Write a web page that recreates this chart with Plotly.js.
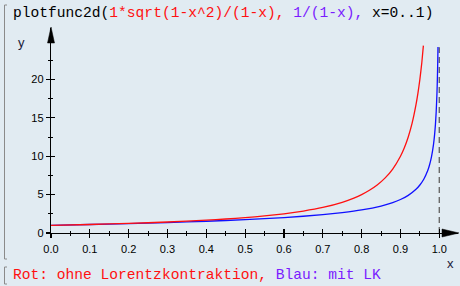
<!DOCTYPE html>
<html>
<head>
<meta charset="utf-8">
<script src="https://cdn.plot.ly/plotly-3.0.1.min.js"></script>
<style>
html,body{margin:0;padding:0;background:#e1ebf2;}
#plot{width:460px;height:286px;}
</style>
</head>
<body>
<div id="plot"></div>
<script>
// Red curve
const xRed = [0,0.1,0.2,0.3,0.4,0.45,0.5,0.55,0.6,0.65,0.7,0.75,0.78,0.8,0.82,0.84,0.86,0.88,0.9,0.91,0.92,0.93,0.94,0.945,0.95,0.955,0.959];
const yRed = [1,1.11,1.25,1.43,1.67,1.82,2.0,2.22,2.5,2.86,3.33,4.0,4.55,5.0,5.56,6.25,7.14,8.33,10.0,11.1,12.5,14.3,16.7,18.2,20.0,22.2,24.4];
// Blue curve
const xBlue = [0,0.1,0.2,0.3,0.4,0.5,0.6,0.7,0.75,0.8,0.85,0.88,0.9,0.92,0.94,0.95,0.96,0.97,0.975,0.98,0.985,0.988,0.99,0.992,0.994,0.995,0.996,0.9966];
const yBlue = [1,1.11,1.22,1.36,1.53,1.73,2.0,2.38,2.65,3.0,3.51,3.96,4.36,4.9,5.69,6.25,7.0,8.1,8.89,9.95,11.5,12.87,14.11,15.78,18.23,19.97,22.34,24.23];
const asymptoteX = [1,1];
const asymptoteY = [0,24.2];

const xTickVals = [0,0.1,0.2,0.3,0.4,0.5,0.6,0.7,0.8,0.9,1.0];
const xTickText = ["0.0","0.1","0.2","0.3","0.4","0.5","0.6","0.7","0.8","0.9","1.0"];
const xMinorVals = [0.05,0.15,0.25,0.35,0.45,0.55,0.65,0.75,0.85,0.95];
const yTickVals = [0,5,10,15,20];
const yTickText = ["0","5","10","15","20"];
const yMinorVals = [2.5,7.5,12.5,17.5,22.5];

const titleText = 'plotfunc2d(<span style="color:#ff1010">1*sqrt(1-x^2)/(1-x),</span> <span style="color:#7a1cff">1/(1-x),</span> x=0..1)';
const noteText = '<span style="color:#ff1010">Rot: ohne Lorentzkontraktion,</span> <span style="color:#7a1cff">Blau: mit LK</span>';

// layout geometry (pixels)
const L = 51, R = 458, T = 28, B = 233, W = 460, H = 286;
const pxX = p => (p - L) / (R - L);
const pxY = p => (B - p) / (B - T);
const xUnit = 388.3, yUnit = 7.68;

const traces = [
  {x: asymptoteX, y: asymptoteY, mode: 'lines', line: {color: '#6a6a6a', width: 1.4, dash: '6px,4px'}, hoverinfo: 'skip'},
  {x: xBlue, y: yBlue, mode: 'lines', line: {color: '#1010ff', width: 1.3, shape: 'spline', smoothing: 0.5}},
  {x: xRed, y: yRed, mode: 'lines', line: {color: '#ff1010', width: 1.3, shape: 'spline', smoothing: 0.5}}
];

const axCommon = {showgrid: false, zeroline: false, showline: true, linecolor: '#000', linewidth: 1.2,
  tickcolor: '#000', tickwidth: 1.2, ticklen: 4};

const layout = {
  width: W, height: H,
  margin: {l: L, r: W - R, t: T, b: H - B, pad: 0},
  paper_bgcolor: '#e1ebf2', plot_bgcolor: '#e1ebf2',
  showlegend: false,
  font: {family: 'Liberation Sans, Arial, sans-serif', size: 11, color: '#000'},
  xaxis: Object.assign({}, axCommon, {range: [0, (R - L) / xUnit], ticks: 'outside', ticklabelstandoff: 2,
    tickmode: 'array', tickvals: xTickVals, ticktext: xTickText,
    minor: {tickmode: 'array', tickvals: xMinorVals, ticks: 'outside', ticklen: 2, tickcolor: '#000', tickwidth: 1}}),
  xaxis2: {overlaying: 'x', anchor: 'y', side: 'bottom', matches: 'x', range: [0, (R - L) / xUnit],
    showgrid: false, zeroline: false, showline: false, showticklabels: false,
    ticks: 'inside', ticklen: 4, tickcolor: '#000', tickwidth: 1.2, tickmode: 'array', tickvals: xTickVals,
    minor: {tickmode: 'array', tickvals: xMinorVals, ticks: 'inside', ticklen: 2, tickcolor: '#000', tickwidth: 1}},
  yaxis: Object.assign({}, axCommon, {range: [0, (B - T) / yUnit], ticks: 'outside',
    tickmode: 'array', tickvals: yTickVals, ticktext: yTickText,
    minor: {tickmode: 'array', tickvals: yMinorVals, ticks: 'outside', ticklen: 2, tickcolor: '#000', tickwidth: 1}}),
  yaxis2: {overlaying: 'y', anchor: 'x', side: 'left', range: [0, (B - T) / yUnit],
    showgrid: false, zeroline: false, showline: false, showticklabels: false,
    ticks: 'inside', ticklen: 4, tickcolor: '#000', tickwidth: 1.2, tickmode: 'array', tickvals: yTickVals,
    minor: {tickmode: 'array', tickvals: yMinorVals, ticks: 'inside', ticklen: 2, tickcolor: '#000', tickwidth: 1}},
  shapes: [
    // y-axis arrow head
    {type: 'path', xref: 'paper', yref: 'paper', xsizemode: 'pixel', ysizemode: 'pixel', xanchor: 0, yanchor: 1,
     path: 'M -3.5,-15 L 0,1 L 3.5,-15 Z', fillcolor: '#000', line: {color: '#000', width: 0.5}},
    // x-axis arrow head
    {type: 'path', xref: 'paper', yref: 'paper', xsizemode: 'pixel', ysizemode: 'pixel', xanchor: 1, yanchor: 0,
     path: 'M -16,-4 L 1,0 L -16,4 Z', fillcolor: '#000', line: {color: '#000', width: 0.5}},
    // cell brackets
    {type: 'path', xref: 'paper', yref: 'paper', path: `M ${pxX(7)},${pxY(5)} L ${pxX(4.5)},${pxY(5)} L ${pxX(4.5)},${pxY(259)} L ${pxX(7)},${pxY(259)}`,
     line: {color: '#8a8a8a', width: 1}},
    {type: 'path', xref: 'paper', yref: 'paper', path: `M ${pxX(7)},${pxY(267)} L ${pxX(4.5)},${pxY(267)} L ${pxX(4.5)},${pxY(284)} L ${pxX(7)},${pxY(284)}`,
     line: {color: '#8a8a8a', width: 1}}
  ],
  annotations: [
    {text: titleText, xref: 'paper', yref: 'paper', x: pxX(11), y: pxY(13), xanchor: 'left', yanchor: 'middle',
     showarrow: false, font: {family: 'Liberation Mono, Courier New, monospace', size: 14.6, color: '#000'}},
    {text: noteText, xref: 'paper', yref: 'paper', x: pxX(11), y: pxY(275), xanchor: 'left', yanchor: 'middle',
     showarrow: false, font: {family: 'Liberation Mono, Courier New, monospace', size: 14.6, color: '#000'}},
    {text: 'y', xref: 'paper', yref: 'paper', x: pxX(22), y: pxY(43), xanchor: 'center', yanchor: 'middle',
     showarrow: false, font: {family: 'Liberation Sans, Arial, sans-serif', size: 13, color: '#1a1a3a'}},
    {text: 'x', xref: 'paper', yref: 'paper', x: pxX(450), y: pxY(263), xanchor: 'center', yanchor: 'middle',
     showarrow: false, font: {family: 'Liberation Sans, Arial, sans-serif', size: 13, color: '#1a1a3a'}}
  ]
};

// dummy traces so overlay axes render
traces.push({x: [0], y: [0], xaxis: 'x2', yaxis: 'y2', mode: 'markers', marker: {opacity: 0}, hoverinfo: 'skip'});

Plotly.newPlot('plot', traces, layout, {staticPlot: true, displayModeBar: false});
</script>
</body>
</html>
